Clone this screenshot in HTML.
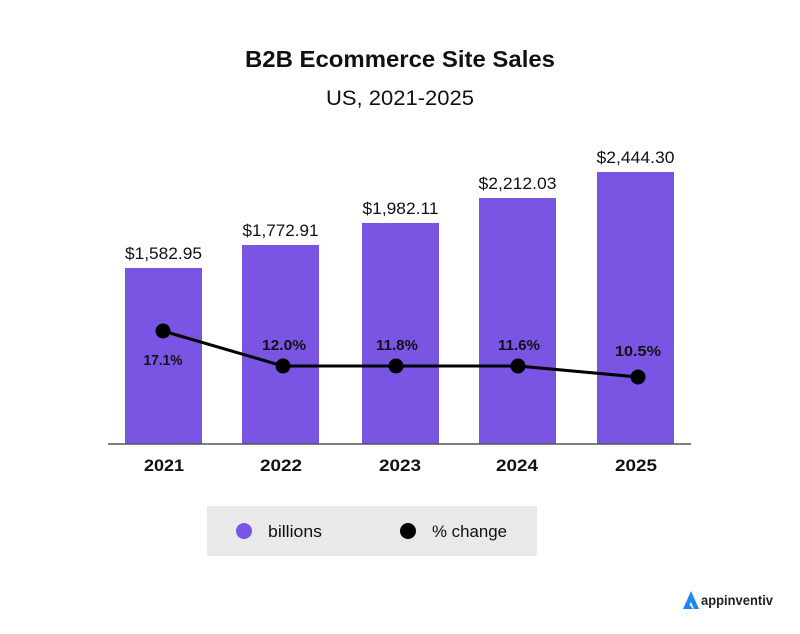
<!DOCTYPE html>
<html>
<head>
<meta charset="utf-8">
<style>
html,body{margin:0;padding:0;background:#fff;}
svg{display:block;}
text{font-family:"Liberation Sans",sans-serif;}
</style>
</head>
<body>
<svg width="800" height="634" viewBox="0 0 800 634" xmlns="http://www.w3.org/2000/svg">
<rect width="800" height="634" fill="#fff"/>
<text x="400" y="67" text-anchor="middle" font-size="23" font-weight="bold" fill="#111" textLength="310" lengthAdjust="spacingAndGlyphs">B2B Ecommerce Site Sales</text>
<text x="400" y="105" text-anchor="middle" font-size="21" fill="#111" textLength="148" lengthAdjust="spacingAndGlyphs">US, 2021-2025</text>

<g fill="#7a55e3">
<rect x="125" y="268" width="77" height="176"/>
<rect x="242" y="245" width="77" height="199"/>
<rect x="362" y="223" width="77" height="221"/>
<rect x="479" y="198" width="77" height="246"/>
<rect x="597" y="172" width="77" height="272"/>
</g>
<line x1="108" y1="444" x2="691" y2="444" stroke="#555" stroke-width="1.5"/>

<g font-size="17" fill="#111" text-anchor="middle">
<text x="163.5" y="259" textLength="77" lengthAdjust="spacingAndGlyphs">$1,582.95</text>
<text x="280.5" y="236" textLength="76" lengthAdjust="spacingAndGlyphs">$1,772.91</text>
<text x="400.5" y="214" textLength="76" lengthAdjust="spacingAndGlyphs">$1,982.11</text>
<text x="517.5" y="189" textLength="78" lengthAdjust="spacingAndGlyphs">$2,212.03</text>
<text x="635.5" y="163" textLength="78" lengthAdjust="spacingAndGlyphs">$2,444.30</text>
</g>

<polyline points="163,331 283,366 396,366 518,366 638,377" fill="none" stroke="#000" stroke-width="3" stroke-linejoin="round"/>
<g fill="#000">
<circle cx="163" cy="331" r="7.5"/>
<circle cx="283" cy="366" r="7.5"/>
<circle cx="396" cy="366" r="7.5"/>
<circle cx="518" cy="366" r="7.5"/>
<circle cx="638" cy="377" r="7.5"/>
</g>
<g font-size="15" font-weight="bold" fill="#111" text-anchor="middle">
<text x="163" y="365" textLength="39" lengthAdjust="spacingAndGlyphs">17.1%</text>
<text x="284" y="350" textLength="44" lengthAdjust="spacingAndGlyphs">12.0%</text>
<text x="397" y="350" textLength="42" lengthAdjust="spacingAndGlyphs">11.8%</text>
<text x="519" y="350" textLength="42" lengthAdjust="spacingAndGlyphs">11.6%</text>
<text x="638" y="356" textLength="46" lengthAdjust="spacingAndGlyphs">10.5%</text>
</g>

<g font-size="17" font-weight="bold" fill="#111" text-anchor="middle">
<text x="164" y="471" textLength="40" lengthAdjust="spacingAndGlyphs">2021</text>
<text x="281" y="471" textLength="42" lengthAdjust="spacingAndGlyphs">2022</text>
<text x="400" y="471" textLength="42" lengthAdjust="spacingAndGlyphs">2023</text>
<text x="517" y="471" textLength="42" lengthAdjust="spacingAndGlyphs">2024</text>
<text x="636" y="471" textLength="42" lengthAdjust="spacingAndGlyphs">2025</text>
</g>

<rect x="207" y="506" width="330" height="50" fill="#e9e8ea"/>
<circle cx="244" cy="531" r="8" fill="#7a55e3"/>
<text x="268" y="537" font-size="17" fill="#111" textLength="54" lengthAdjust="spacingAndGlyphs">billions</text>
<circle cx="408" cy="531" r="8" fill="#000"/>
<text x="432" y="537" font-size="17" fill="#111" textLength="75" lengthAdjust="spacingAndGlyphs">% change</text>

<path d="M683,609 L691,591 L699,609 L694,609 L691,602 L687,609 Z" fill="#1e88f0"/>
<path d="M683,609 L689,604 L693,609 Z" fill="#1e88f0"/>
<text x="701" y="605" font-size="14" font-weight="bold" fill="#222" textLength="72" lengthAdjust="spacingAndGlyphs">appinventiv</text>
</svg>
</body>
</html>
